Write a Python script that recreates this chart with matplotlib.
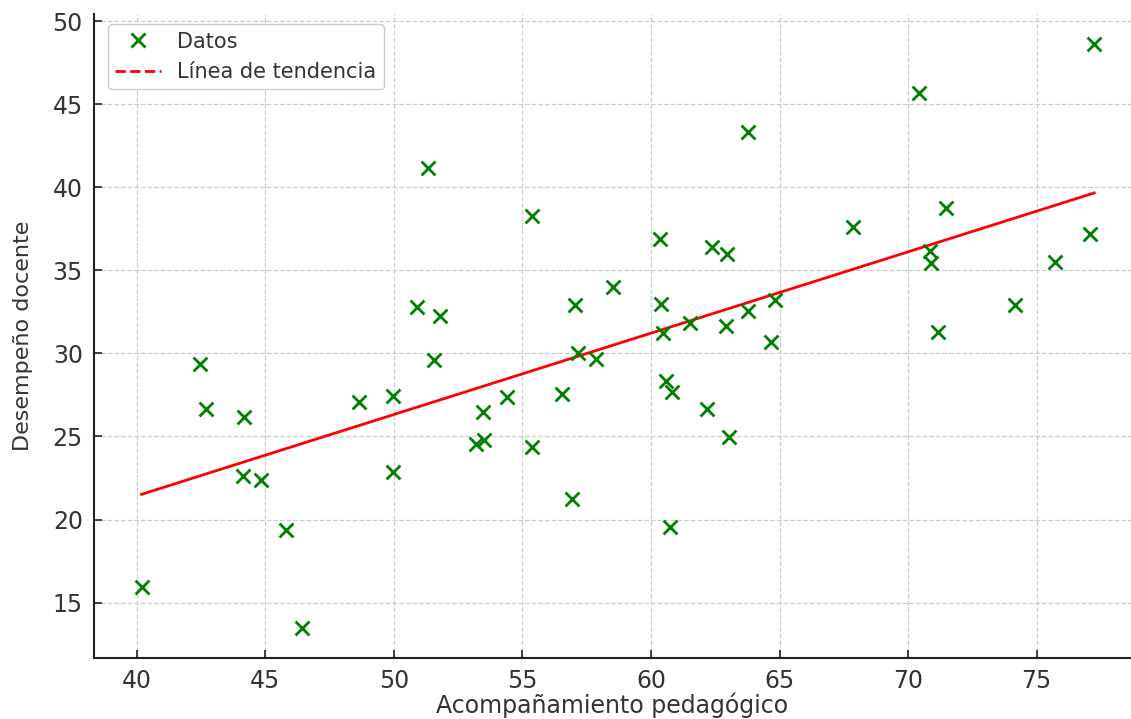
import numpy as np
import matplotlib
matplotlib.use('Agg')
import matplotlib.pyplot as plt
from matplotlib.lines import Line2D

#%% Data
acompanamiento = [40.19, 42.46, 42.70, 44.17, 44.15, 44.82, 45.81, 46.42, 48.65, 49.98,
                  49.98, 50.89, 51.34, 51.56, 51.80, 53.20, 53.51, 53.46, 54.39, 55.36,
                  55.39, 56.53, 56.94, 57.05, 57.18, 57.85, 58.51, 60.37, 60.39, 60.47,
                  60.58, 60.74, 60.83, 61.52, 62.17, 62.39, 62.91, 62.95, 63.05, 63.77,
                  63.79, 64.66, 64.84, 67.85, 70.44, 70.87, 70.91, 71.18, 71.47, 74.14,
                  75.72, 77.08, 77.24]
desempeno = [15.93, 29.34, 26.65, 26.19, 22.64, 22.38, 19.37, 13.50, 27.09, 27.45,
             22.88, 32.81, 41.17, 29.60, 32.27, 24.55, 24.79, 26.49, 27.40, 24.39,
             38.27, 27.56, 21.24, 32.91, 30.01, 29.65, 33.98, 36.86, 32.97, 31.21,
             28.36, 19.54, 27.70, 31.81, 26.64, 36.42, 31.65, 35.96, 24.95, 32.57,
             43.34, 30.70, 33.21, 37.63, 45.69, 36.18, 35.42, 31.31, 38.77, 32.91,
             35.52, 37.17, 48.60]

x = np.array(acompanamiento)
y = np.array(desempeno)
slope, intercept = np.polyfit(x, y, 1)
x_line = np.array([x.min(), x.max()])

#%% Plot
fig = plt.figure(figsize=(11.31, 7.19), dpi=100)
ax = fig.add_axes([0.0831, 0.0853, 0.9169, 0.8952])

ax.scatter(x, y, marker='x', color='green', s=100, linewidths=2, zorder=3)
ax.plot(x_line, slope * x_line + intercept, color='red', lw=2, zorder=2)

ax.set_xlim(38.34, 78.67)
ax.set_ylim(11.69, 50.42)
ax.set_xticks([40, 45, 50, 55, 60, 65, 70, 75])
ax.set_yticks([15, 20, 25, 30, 35, 40, 45, 50])
ax.grid(True, linestyle='--', color='#cccccc', lw=0.9)
ax.set_axisbelow(True)

for s in ['top', 'right']:
    ax.spines[s].set_visible(False)
for s in ['left', 'bottom']:
    ax.spines[s].set_color('#222222')
    ax.spines[s].set_linewidth(1.5)

ax.tick_params(direction='in', length=6, width=1.2, labelsize=17,
               labelcolor='#333333', color='#222222', pad=8)

ax.set_xlabel('Acompañamiento pedagógico', fontsize=17, color='#333333', labelpad=0)
ax.set_ylabel('Desempeño docente', fontsize=16, color='#333333', labelpad=14)

handles = [Line2D([], [], marker='x', color='green', ls='none', markersize=10, mew=2),
           Line2D([], [], color='red', ls='--', lw=2)]
ax.legend(handles, ['Datos', 'Línea de tendencia'], loc='upper left', fontsize=15,
          labelcolor='#333333', framealpha=1, edgecolor='#cccccc',
          bbox_to_anchor=(0.003, 1.0), handlelength=2.2, borderpad=0.35)

fig.savefig('out.png', dpi=100)
